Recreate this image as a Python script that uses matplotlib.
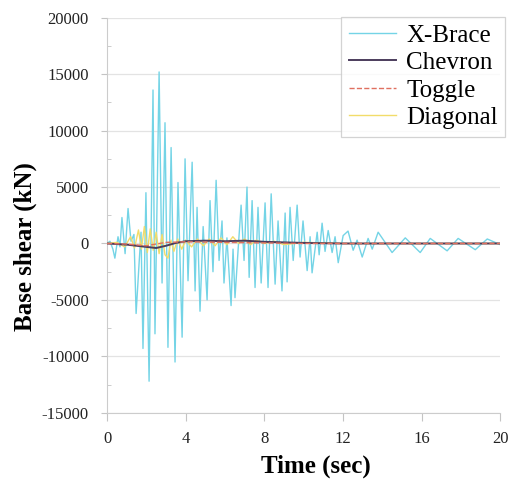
import matplotlib
matplotlib.use("Agg")
import matplotlib.pyplot as plt
from matplotlib.ticker import MultipleLocator

plt.rcParams['font.family'] = ['Liberation Serif', 'DejaVu Serif']
plt.rcParams['axes.unicode_minus'] = False

# X-Brace base shear response (peaks)
xbrace_t = [0, 0.15, 0.3, 0.4, 0.56, 0.66, 0.76, 0.92, 1.07, 1.22, 1.37, 1.48,
            1.63, 1.73, 1.83, 1.98, 2.14, 2.34, 2.44, 2.65, 2.8, 2.95, 3.1,
            3.26, 3.46, 3.61, 3.82, 3.97, 4.12, 4.33, 4.48, 4.58, 4.73, 4.89,
            5.09, 5.24, 5.39, 5.55, 5.7, 5.85, 5.95, 6.1, 6.31, 6.41, 6.51,
            6.67, 6.82, 6.97, 7.12, 7.23, 7.38, 7.53, 7.68, 7.84, 8.04, 8.19,
            8.35, 8.55, 8.7, 8.9, 9.06, 9.16, 9.31, 9.47, 9.67, 9.82, 9.97,
            10.18, 10.33, 10.43, 10.69, 10.79, 10.94, 11.09, 11.25, 11.45,
            11.6, 11.76, 12.01, 12.26, 12.52, 12.72, 12.98, 13.28, 13.49,
            13.79, 14.5, 15.17, 15.93, 16.44, 17.3, 17.86, 18.73, 19.34, 20]
xbrace_v = [0, 200, -500, -1300, 600, -300, 2300, -900, 3100, 200, 800, -6200,
            -1800, 1000, -9300, 4500, -12200, 13600, -8000, 15200, -3500, 10700,
            -9200, 8500, -10500, 5400, -8300, 7500, -3300, 7200, -4200, 3200,
            -6000, 1500, -5000, 3800, -2500, 5600, -1500, 2000, -3500, 500,
            -5500, -500, -4800, -500, 3400, -1500, 5000, -3000, 3800, -3900,
            3200, -3500, 3600, -3900, 4400, -3600, 2000, -4200, 2700, -3400,
            3200, -1500, 3400, -1200, 2000, -2400, 600, -2600, 1000, -1000,
            1800, -700, 1150, -800, 600, -1700, 700, 1100, -600, 300, -1200,
            450, -500, 1000, -800, 500, -800, 450, -650, 450, -550, 400, -100]

chevron_t = [0, 1, 2, 2.5, 3, 3.5, 4, 5, 6, 7, 8, 10, 12, 20]
chevron_v = [0, -100, -300, -400, -200, 50, 200, 250, 200, 250, 150, 50, 0, 0]

toggle_t = [0, 1, 2, 3, 4, 6, 8, 10, 20]
toggle_v = [0, -50, -200, 100, 150, 100, 50, 0, 0]

diagonal_t = [0, 0.5, 0.9, 1.2, 1.4, 1.6, 1.75, 1.9, 2.05, 2.2, 2.35, 2.5, 2.65,
              2.8, 2.95, 3.1, 3.25, 3.4, 3.6, 3.8, 4.0, 4.3, 4.6, 4.9, 5.2, 5.5,
              5.8, 6.1, 6.4, 6.7, 7.0, 7.3, 7.6, 8.0, 8.5, 9.0, 10, 12, 20]
diagonal_v = [0, 100, -300, 600, -400, 1200, -500, 1500, -800, 1300, -600, 1000,
              -900, 800, -1000, -1300, 300, -700, 400, -500, 300, -300, 400,
              -200, 400, -200, 500, -100, 600, 0, 400, -100, 300, 0, 200, -100,
              100, 0, 0]

fig = plt.figure(figsize=(5.12, 4.8), dpi=100)
ax = fig.add_axes([0.209, 0.140, 0.768, 0.823])

ax.plot(xbrace_t, xbrace_v, color='#74d4e6', lw=1.0, label='X-Brace', zorder=3)
ax.plot(chevron_t, chevron_v, color='#4b3c5c', lw=1.4, label='Chevron', zorder=5)
ax.plot(toggle_t, toggle_v, color='#e07060', lw=1.0, ls='--', label='Toggle', zorder=6)
ax.plot(diagonal_t, diagonal_v, color='#f2dc6a', lw=1.0, label='Diagonal', zorder=4)

ax.set_xlim(0, 20)
ax.set_ylim(-15000, 20000)
ax.xaxis.set_major_locator(MultipleLocator(4))
ax.yaxis.set_major_locator(MultipleLocator(5000))
ax.yaxis.set_minor_locator(MultipleLocator(2500))
ax.yaxis.grid(True, color='#e3e3e3', lw=0.9)
ax.set_axisbelow(True)

for side in ['top', 'right']:
    ax.spines[side].set_visible(False)
for side in ['left', 'bottom']:
    ax.spines[side].set_color('#cccccc')
ax.tick_params(axis='both', which='both', colors='#c4c4c4', labelcolor='#222222',
               labelsize=12)
ax.tick_params(axis='x', which='major', direction='out', length=6, pad=7)
ax.tick_params(axis='y', which='major', direction='out', length=4, pad=9)
ax.tick_params(axis='y', which='minor', direction='in', length=3)

ax.set_xlabel('Time (sec)', fontsize=18, fontweight='bold')
ax.set_ylabel('Base shear (kN)', fontsize=18, fontweight='bold')
ax.xaxis.set_label_coords(0.53, -0.105)
ax.yaxis.set_label_coords(-0.178, 0.42)

leg = ax.legend(loc='upper right', bbox_to_anchor=(1.013, 1.003), fontsize=18,
                frameon=True, fancybox=False, handlelength=1.9, borderpad=0.3,
                labelspacing=0.2, handletextpad=0.4, borderaxespad=0)
leg.get_frame().set_edgecolor('#c8c8c8')
leg.get_frame().set_linewidth(0.9)

fig.savefig('out.png', dpi=100)
